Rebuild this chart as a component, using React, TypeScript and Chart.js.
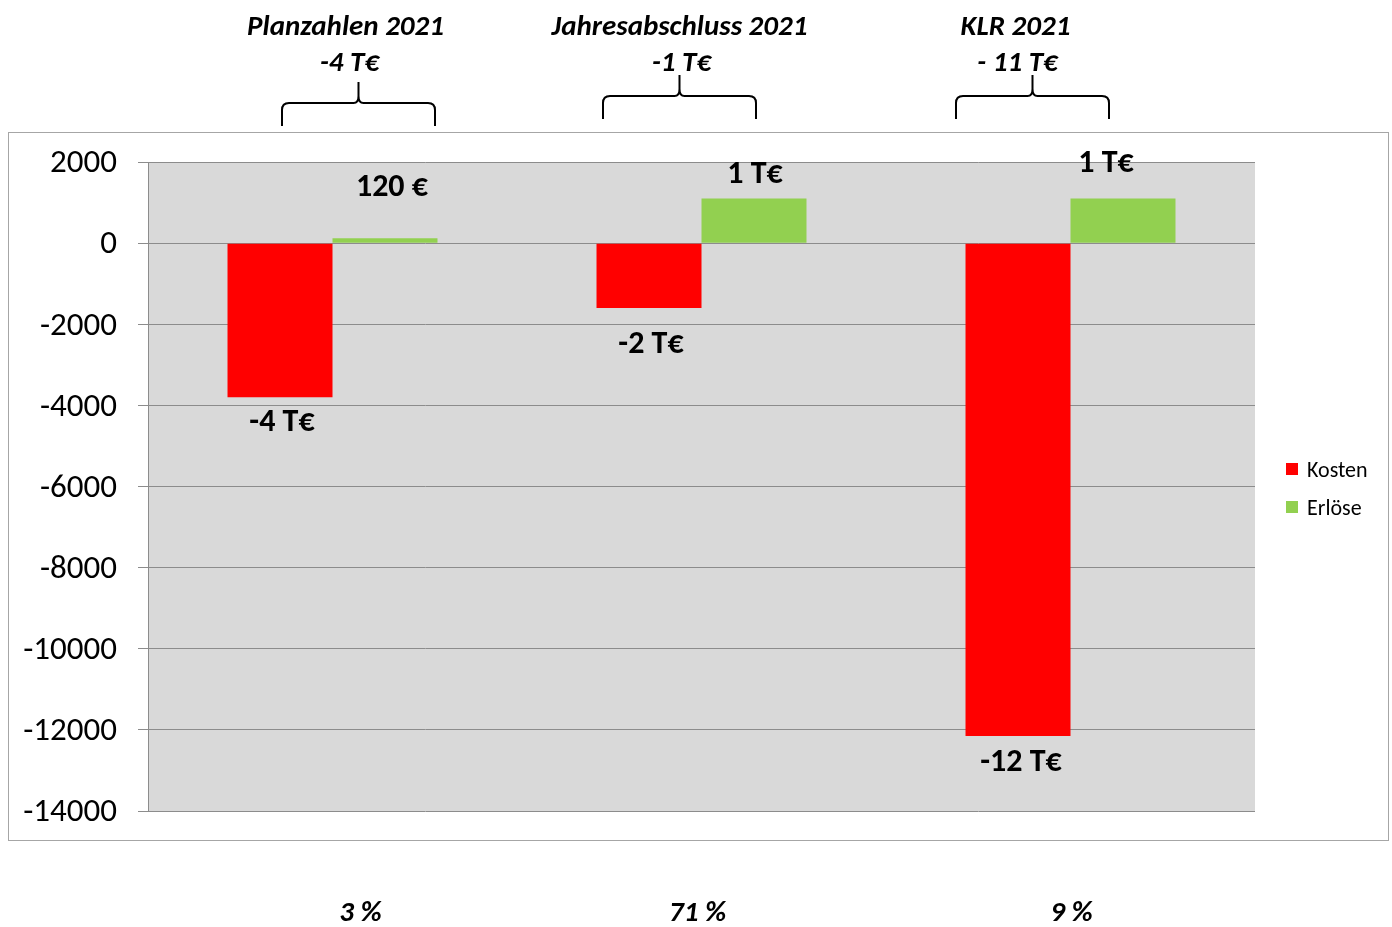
import React, { useEffect, useRef } from "react";
import { Chart, registerables } from "chart.js";
Chart.register(...registerables);

const categories = ["Planzahlen 2021", "Jahresabschluss 2021", "KLR 2021"];
const seriesNames = ["Kosten", "Erlöse"];
const kosten = [-3800, -1600, -12150];
const erloese = [120, 1100, 1100];
const kostenLabels = ["-4 T€", "-2 T€", "-12 T€"];
const erloeseLabels = ["120 €", "1 T€", "1 T€"];
const totals = ["-4 T€", "-1 T€", "- 11 T€"];
const percents = ["3 %", "71 %", "9 %"];
const yMin = -14000;
const yMax = 2000;
const yStep = 2000;

const colors = ["#ff0000", "#92d050"];
const FONT = "Carlito, Calibri, Lato, sans-serif";

// label offsets relative to bar end (dx, dy)
const kostenLabelOffsets = [[2, 26], [2, 37], [3, 27]];
const erloeseLabelOffsets = [[7, -50], [1, -24], [-17, -35]];
// annotation offsets relative to category center
const braceOffsets = [25, -23, -39];
const braceTops = [103, 96, 96];
const titleOffsets = [13, -22, -55];
const totalOffsets = [17, -20, -53];
const percentOffsets = [28, -4, 1];

export default function App() {
  const ref = useRef<HTMLCanvasElement | null>(null);
  useEffect(() => {
    if (!ref.current) return;
    const deco = {
      id: "deco",
      beforeDraw(chart: any) {
        const { ctx, chartArea } = chart;
        ctx.save();
        ctx.fillStyle = "#ffffff";
        ctx.fillRect(0, 0, chart.width, chart.height);
        ctx.strokeStyle = "#a6a6a6";
        ctx.lineWidth = 1;
        ctx.strokeRect(8.5, 132.5, 1380, 708);
        ctx.fillStyle = "#d9d9d9";
        ctx.fillRect(chartArea.left, chartArea.top, chartArea.right - chartArea.left, chartArea.bottom - chartArea.top);
        ctx.restore();
      },
      afterDraw(chart: any) {
        const { ctx } = chart;
        const xs = chart.scales.x;
        ctx.save();
        ctx.fillStyle = "#000";
        ctx.textAlign = "center";
        ctx.textBaseline = "middle";
        // data labels
        chart.data.datasets.forEach((ds: any, di: number) => {
          const meta = chart.getDatasetMeta(di);
          const labels = di === 0 ? kostenLabels : erloeseLabels;
          const offs = di === 0 ? kostenLabelOffsets : erloeseLabelOffsets;
          meta.data.forEach((bar: any, i: number) => {
            ctx.font = `bold 32px ${FONT}`;
            ctx.fillText(labels[i], bar.x + offs[i][0], bar.y + offs[i][1]);
          });
        });
        // annotations
        categories.forEach((c, i) => {
          const cx = xs.getPixelForValue(i);
          ctx.font = `italic bold 29px ${FONT}`;
          ctx.fillText(c, cx + titleOffsets[i], 28);
          ctx.fillText(totals[i], cx + totalOffsets[i], 64);
          ctx.fillText(percents[i], cx + percentOffsets[i], 914);
          // brace
          const bc = Math.round(cx + braceOffsets[i]) + 0.5;
          const half = 76.5;
          const top = braceTops[i];
          const bot = top + 23;
          const tip = top - 21;
          const l = bc - half, r = bc + half;
          ctx.beginPath();
          ctx.moveTo(l, bot);
          ctx.lineTo(l, top + 7);
          ctx.quadraticCurveTo(l, top, l + 7, top);
          ctx.lineTo(bc - 5, top);
          ctx.quadraticCurveTo(bc, top, bc, top - 7);
          ctx.lineTo(bc, tip);
          ctx.moveTo(bc, top - 7);
          ctx.quadraticCurveTo(bc, top, bc + 5, top);
          ctx.lineTo(r - 7, top);
          ctx.quadraticCurveTo(r, top, r, top + 7);
          ctx.lineTo(r, bot);
          ctx.strokeStyle = "#000";
          ctx.lineWidth = 2;
          ctx.stroke();
        });
        // legend
        ctx.textAlign = "left";
        ctx.font = `22px ${FONT}`;
        seriesNames.forEach((n, i) => {
          const y = 469 + i * 38;
          ctx.fillStyle = colors[i];
          ctx.fillRect(1286, y - 6, 12, 12);
          ctx.fillStyle = "#000";
          ctx.fillText(n, 1307, y + 2);
        });
        ctx.restore();
      },
    };
    const chart = new Chart(ref.current, {
      type: "bar",
      data: {
        labels: categories,
        datasets: [
          { label: seriesNames[0], data: kosten, backgroundColor: colors[0], borderWidth: 0 },
          { label: seriesNames[1], data: erloese, backgroundColor: colors[1], borderWidth: 0 },
        ],
      },
      options: {
        responsive: false,
        animation: false,
        devicePixelRatio: 1,
        layout: { padding: { left: 0, top: 162, right: 137, bottom: 116 } },
        plugins: { legend: { display: false }, tooltip: { enabled: false } },
        datasets: { bar: { barPercentage: 1, categoryPercentage: 0.569 } },
        scales: {
          x: { display: false },
          y: {
            min: yMin,
            max: yMax,
            afterFit(axis: any) { axis.width = 148; },
            ticks: {
              stepSize: yStep,
              color: "#000",
              padding: 21,
              labelOffset: 2,
              font: { family: FONT, size: 33 },
              callback: (v: any) => String(v),
            },
            grid: { color: "#8c8c8c", tickLength: 10, drawTicks: true },
            border: { display: true, color: "#8c8c8c" },
          },
        },
      },
      plugins: [deco],
    });
    return () => chart.destroy();
  }, []);
  return (
    <div style={{ position: "absolute", left: 0, top: 0, width: 1392, height: 927 }}>
      <canvas ref={ref} width={1392} height={927} />
    </div>
  );
}
